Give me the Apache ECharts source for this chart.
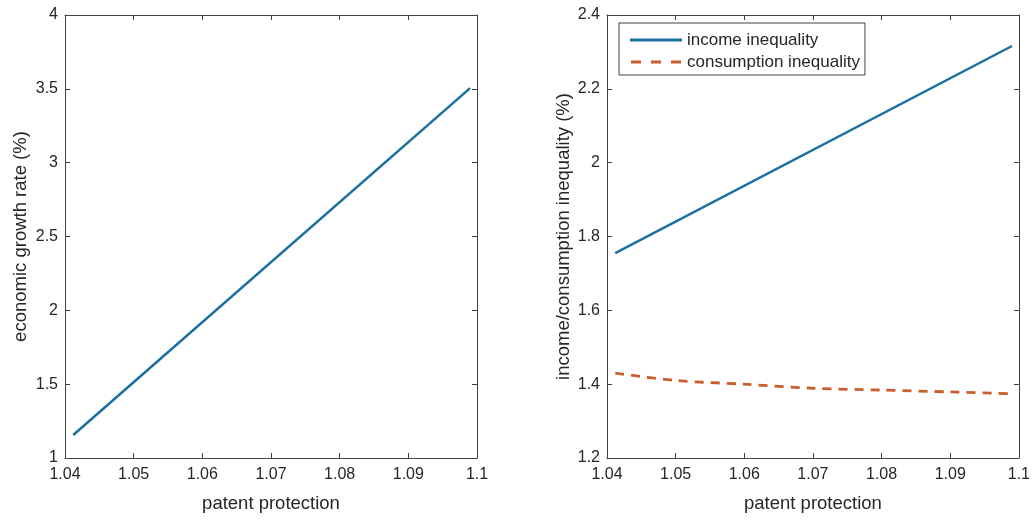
<!DOCTYPE html>
<html><head><meta charset="utf-8">
<script src="https://cdn.jsdelivr.net/npm/echarts@6/dist/echarts.min.js"></script>
<style>html,body{margin:0;padding:0;background:#fff}#c{width:1033px;height:520px}</style>
</head><body><div id="c"></div>
<script>
const growthX = [1.0412, 1.099];
const growthY = [1.156, 3.505];
const incomeX = [1.0412, 1.099];
const incomeY = [1.755, 2.316];
const consX = [1.0412, 1.05, 1.06, 1.07, 1.08, 1.09, 1.099];
const consY = [1.430, 1.410, 1.400, 1.389, 1.384, 1.379, 1.374];

const FONT = 'Liberation Sans, Arial, sans-serif';
const AX = '#262626';
const LN = '#404040';
const BLUE = '#1b70a0';
const ORANGE = '#c95e2a';

function xa(grid, pos, show) {
  return {type:'value', gridIndex:grid, position:pos, min:1.04, max:1.1, interval:0.01,
    name: show ? 'patent protection' : '', nameLocation:'middle', nameGap:36,
    nameTextStyle:{fontFamily:FONT, fontSize:18.5, color:AX},
    axisLine:{show:true, onZero:false, lineStyle:{color:LN, width:1}},
    axisTick:{show:true, inside:true, length:5, lineStyle:{color:LN}},
    axisLabel:{show:show, fontFamily:FONT, fontSize:16, color:AX, margin:9,
      formatter:v=>(Math.round(v*100)/100).toString()},
    splitLine:{show:false}};
}
function ya(grid, pos, show, min, max, interval, name) {
  return {type:'value', gridIndex:grid, position:pos, min:min, max:max, interval:interval,
    name: show ? name : '', nameLocation:'middle', nameGap: grid===0?35:34,
    nameTextStyle:{fontFamily:FONT, fontSize:18.5, color:AX},
    axisLine:{show:true, onZero:false, lineStyle:{color:LN, width:1}},
    axisTick:{show:true, inside:true, length:5, lineStyle:{color:LN}},
    axisLabel:{show:show, fontFamily:FONT, fontSize:16, color:AX, margin:7,
      formatter:v=>(Math.round(v*10)/10).toString()},
    splitLine:{show:false}};
}
const zip = (a,b)=>a.map((v,i)=>[v,b[i]]);

const chart = echarts.init(document.getElementById('c'));
chart.setOption({
  animation:false,
  grid:[{left:65, width:412, top:15, height:443},
        {left:607, width:412, top:15, height:443}],
  xAxis:[xa(0,'bottom',true), xa(0,'top',false), xa(1,'bottom',true), xa(1,'top',false)],
  yAxis:[ya(0,'left',true,1,4,0.5,'economic growth rate (%)'), ya(0,'right',false,1,4,0.5,''),
         ya(1,'left',true,1.2,2.4,0.2,'income/consumption inequality (%)'), ya(1,'right',false,1.2,2.4,0.2,'')],
  legend:{left:619, top:23, orient:'vertical', itemWidth:52, itemHeight:3, itemGap:2,
    padding:[7,5,3,11], borderColor:LN, borderWidth:1, backgroundColor:'#fff',
    textStyle:{fontFamily:FONT, fontSize:17, color:AX, lineHeight:20},
    lineStyle:{opacity:0},
    data:[{name:'income inequality', icon:'path://M0,0H52V3H0Z', itemStyle:{color:BLUE}},
          {name:'consumption inequality', icon:'path://M0,0H10V3H0Z M20,0H30V3H20Z M40,0H50V3H40Z', itemStyle:{color:ORANGE}}]},
  series:[
    {type:'line', name:'growth', xAxisIndex:0, yAxisIndex:0, data:zip(growthX,growthY),
      showSymbol:false, symbol:'none', lineStyle:{color:BLUE, width:2.5}, itemStyle:{color:BLUE}},
    {type:'line', name:'income inequality', xAxisIndex:2, yAxisIndex:2, data:zip(incomeX,incomeY),
      showSymbol:false, symbol:'none', lineStyle:{color:BLUE, width:2.5}, itemStyle:{color:BLUE}},
    {type:'line', name:'consumption inequality', xAxisIndex:2, yAxisIndex:2, data:zip(consX,consY),
      smooth:0.3, showSymbol:false, symbol:'none', lineStyle:{color:ORANGE, width:2.8, type:[9,7]}, itemStyle:{color:ORANGE}}
  ]
});
</script></body></html>
